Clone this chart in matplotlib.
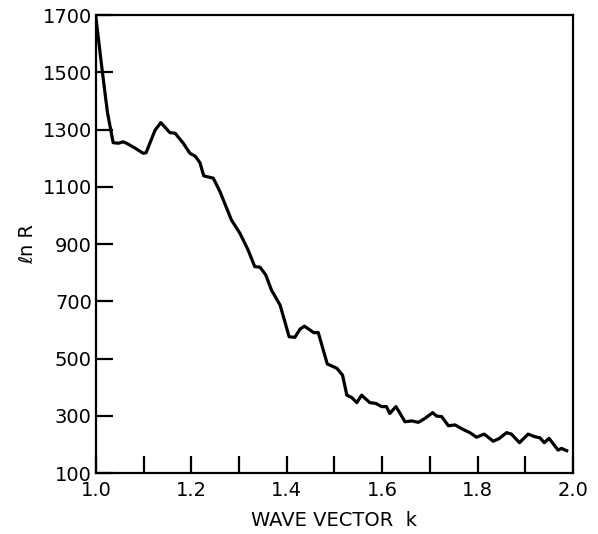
import numpy as np
import matplotlib.pyplot as plt
from matplotlib.ticker import MultipleLocator

# values
wave_k = [1.000, 1.012, 1.024, 1.036, 1.047, 1.057, 1.064, 1.082, 1.099, 1.105,
          1.124, 1.136, 1.155, 1.166, 1.183, 1.197, 1.208, 1.218, 1.226, 1.246,
          1.260, 1.284, 1.302, 1.319, 1.333, 1.344, 1.356, 1.368, 1.386, 1.396,
          1.405, 1.417, 1.428, 1.437, 1.457, 1.466, 1.485, 1.505, 1.517, 1.526,
          1.536, 1.547, 1.557, 1.574, 1.587, 1.599, 1.609, 1.616, 1.629, 1.648,
          1.662, 1.676, 1.690, 1.706, 1.714, 1.725, 1.739, 1.753, 1.770, 1.784,
          1.798, 1.814, 1.833, 1.845, 1.861, 1.871, 1.888, 1.906, 1.920, 1.931,
          1.940, 1.950, 1.969, 1.976, 1.987]
ln_r = [1690, 1520, 1360, 1254, 1252, 1257, 1252, 1235, 1217, 1219,
        1298, 1324, 1289, 1287, 1252, 1217, 1207, 1184, 1138, 1130,
        1083, 984, 937, 879, 821, 819, 792, 739, 687, 629,
        576, 574, 603, 613, 590, 591, 481, 466, 442, 372,
        364, 346, 372, 346, 343, 332, 332, 308, 332, 279,
        282, 277, 291, 311, 299, 297, 265, 268, 252, 241,
        225, 236, 211, 220, 241, 236, 206, 236, 227, 223,
        206, 221, 180, 186, 178]

y_ticks = [100, 300, 500, 700, 900, 1100, 1300, 1500, 1700]
x_ticks = [1.0, 1.2, 1.4, 1.6, 1.8, 2.0]

fig = plt.figure(figsize=(5.98, 5.34), dpi=100)
ax = fig.add_axes([0.1605, 0.1142, 0.7975, 0.8577])

ax.plot(wave_k, ln_r, color='black', linewidth=2.3, solid_joinstyle='round')

ax.set_xlim(1.0, 2.0)
ax.set_ylim(100, 1700)
ax.set_xticks(x_ticks)
ax.set_xticklabels(['1.0', '1.2', '1.4', '1.6', '1.8', '2.0'])
ax.xaxis.set_minor_locator(MultipleLocator(0.1))
ax.set_yticks(y_ticks)
ax.set_yticklabels([str(v) for v in y_ticks])

ax.tick_params(axis='both', which='both', direction='in', length=12, width=1.6,
               top=False, right=False, labelsize=14, colors='black')
ax.tick_params(axis='x', pad=6)
ax.tick_params(axis='y', pad=3)
for s in ax.spines.values():
    s.set_linewidth(1.6)

ax.set_xlabel('WAVE VECTOR  k', fontsize=14, labelpad=8)
ax.set_ylabel('ℓn R', fontsize=14, labelpad=4)

fig.savefig('out.png', dpi=100)
